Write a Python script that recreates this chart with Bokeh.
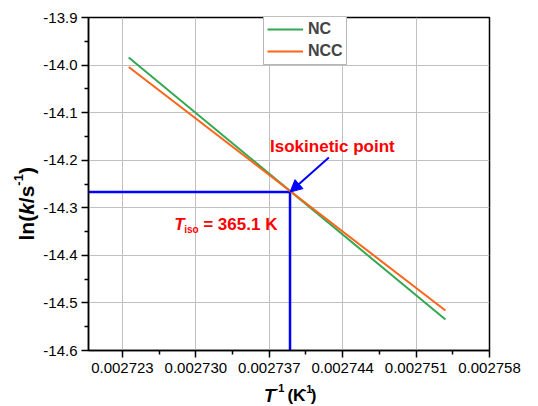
import math
from bokeh.plotting import figure
from bokeh.layouts import row, column
from bokeh.core.properties import value
from bokeh.models import (Range1d, FixedTicker, PrintfTickFormatter, Legend,
                          LegendItem, Label, Arrow, NormalHead)
from bokeh.embed import file_html
from bokeh.resources import INLINE

# ---------------- data ----------------
series_names = ["NC", "NCC"]
x_nc = [0.0027236, 0.0027538]
y_nc = [-13.984, -14.535]
x_ncc = [0.0027236, 0.0027538]
y_ncc = [-14.004, -14.516]
t_iso_k = 365.1
x_iso = 0.00273898
y_iso = -14.267
x_ticks = [0.002723, 0.002730, 0.002737, 0.002744, 0.002751, 0.002758]
y_ticks = [-14.6, -14.5, -14.4, -14.3, -14.2, -14.1, -14.0, -13.9]

# ---------------- layout (canvas pixels) ----------------
W, H = 538, 406
YSTRIP = 40          # left strip holding the y title
MAIN_H = 380         # main figure height; bottom strip holds x title
L, R, T, B = 87, 489, 17, 350
X0, X1 = 0.0027197663, 0.002758
Y0, Y1 = -14.6, -13.9
FONT = "Liberation Sans"
BF = 5               # baseline correction (px) for rendered text


def dx(px):
    return X0 + (px - L) / (R - L) * (X1 - X0)


def dy(py):
    return Y1 - (py - T) / (B - T) * (Y1 - Y0)


p = figure(width=W - YSTRIP, height=MAIN_H, x_range=Range1d(X0, X1),
           y_range=Range1d(Y0, Y1), output_backend="svg", toolbar_location=None,
           min_border_left=L - YSTRIP, min_border_right=W - R,
           min_border_top=T, min_border_bottom=MAIN_H - B)
p.background_fill_color = "white"
p.border_fill_color = "white"
p.outline_line_color = "black"
p.outline_line_width = 1.5

x_minor = [(a + b) / 2 for a, b in zip(x_ticks[:-1], x_ticks[1:])]
y_minor = [(a + b) / 2 for a, b in zip(y_ticks[:-1], y_ticks[1:])]
p.xaxis.ticker = FixedTicker(ticks=x_ticks, minor_ticks=x_minor)
p.yaxis.ticker = FixedTicker(ticks=y_ticks, minor_ticks=y_minor)
p.xaxis.formatter = PrintfTickFormatter(format="%.6f")
p.yaxis.formatter = PrintfTickFormatter(format="%.1f")
for ax in (p.xaxis, p.yaxis):
    ax.major_tick_out = 7
    ax.major_tick_in = 0
    ax.minor_tick_out = 4
    ax.minor_tick_in = 0
    ax.major_tick_line_width = 1.5
    ax.minor_tick_line_width = 1.5
    ax.axis_line_width = 1.5
    ax.major_label_text_font = FONT
    ax.major_label_text_font_size = "15px"
    ax.major_label_text_color = "black"
    ax.major_label_standoff = 4
p.xaxis.major_label_standoff = 5

p.grid.grid_line_color = "#c0c0c0"
p.grid.grid_line_width = 1

# blue guide lines
p.segment(x0=[X0, x_iso], y0=[y_iso, y_iso], x1=[x_iso, x_iso], y1=[y_iso, Y0],
          line_color="#0000ff", line_width=2.5)

r_nc = p.line(x_nc, y_nc, line_color="#33a852", line_width=2)
r_ncc = p.line(x_ncc, y_ncc, line_color="#ff6418", line_width=2)

p.add_layout(Arrow(end=NormalHead(size=12, fill_color="#0000ff", line_color="#0000ff"),
                   x_start=dx(328), y_start=dy(157), x_end=x_iso, y_end=y_iso,
                   line_color="#0000ff", line_width=2))

legend = Legend(items=[LegendItem(label=series_names[0], renderers=[r_nc]),
                       LegendItem(label=series_names[1], renderers=[r_ncc])],
                location=(175, 285), orientation="vertical", padding=3, margin=0,
                spacing=2, glyph_width=36, glyph_height=20, label_height=20,
                label_standoff=5, label_text_font=FONT, label_text_font_style="bold",
                label_text_font_size="16px", border_line_color="#707070",
                border_line_width=1.5, background_fill_color="white",
                background_fill_alpha=1)
p.add_layout(legend)


def lab(px, py, text, size, style="bold", color="black"):
    p.add_layout(Label(x=dx(px), y=dy(py - BF), text=text, text_font=FONT,
                       text_font_style=style, text_font_size=f"{size}px",
                       text_color=color, text_baseline="alphabetic",
                       text_align="left"))


# in-plot annotations (canvas pixel anchors: left edge, baseline)
lab(269, 151, "Isokinetic point", 17, color="#ff0000")
lab(173, 229, "T", 17, style="bold italic", color="#ff0000")
lab(183, 234, "iso", 10, color="#ff0000")
lab(202, 229, f"= {t_iso_k} K", 17, color="#ff0000")


def strip(width, height, x0, x1):
    f = figure(width=width, height=height, x_range=Range1d(x0, x1),
               y_range=Range1d(0, height), output_backend="svg",
               toolbar_location=None, x_axis_location=None, y_axis_location=None,
               min_border=0)
    f.outline_line_color = None
    f.grid.visible = False
    f.background_fill_color = "white"
    f.border_fill_color = "white"
    return f


def stext(f, x, y, text, size, style="bold", angle=0.0):
    f.text(x=[x], y=[y], text=[text], text_font=value(FONT), text_font_style=style,
           text_font_size=f"{size}px", text_color="black",
           text_baseline="alphabetic", text_align="left", angle=angle)


# ---- x title strip (canvas x 40..538, y 380..406) ----
xs_h = H - MAIN_H
xf = strip(W - YSTRIP, xs_h, YSTRIP, W)


def xy(py):  # canvas y -> strip data y
    return H - (py - BF)


stext(xf, 258, xy(400), "T", 18, style="bold italic")
stext(xf, 271, xy(392), "-1", 11)
stext(xf, 287, xy(400), "(K", 17)
stext(xf, 306, xy(393), "-1", 11)
stext(xf, 316, xy(400), ")", 17)

# ---- y title strip (canvas x 0..40, y 0..406) ----
yf = strip(YSTRIP, H, 0, YSTRIP)
fs = 21
pieces = [("ln(", fs, "bold", 0, (278 + 611 + 333)),
          ("k", fs, "bold italic", 0, 556),
          ("/s", fs, "bold", 0, (278 + 556)),
          ("-1", 13, "bold", 8, (333 + 556)),
          (")", fs, "bold", 0, 333 + 120)]
cur = 240
for txt, size, style, raise_px, w in pieces:
    stext(yf, 31 - BF - raise_px, H - cur, txt, size, style=style, angle=math.pi / 2)
    cur -= w * size / 1000.0

layout = row(yf, column(p, xf, spacing=0), spacing=0)
open("out.html", "w").write(file_html(layout, INLINE))
